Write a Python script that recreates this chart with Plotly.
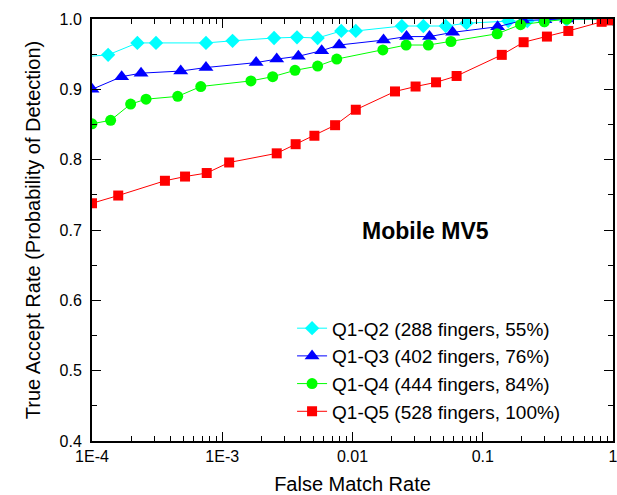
import plotly.graph_objects as go

# ---- data ----
names = ["Q1-Q2 (288 fingers, 55%)", "Q1-Q3 (402 fingers, 76%)",
         "Q1-Q4 (444 fingers, 84%)", "Q1-Q5 (528 fingers, 100%)"]

q2_fmr = [7e-5, 1.33e-4, 2.23e-4, 3.1e-4, 7.5e-4, 1.2e-3, 2.5e-3, 3.75e-3, 5.4e-3, 8.2e-3,
          1.06e-2, 0.0239, 0.035, 0.052, 0.075, 0.157, 0.22, 0.30, 0.44, 1.0]
q2_tar = [0.945, 0.949, 0.966, 0.966, 0.966, 0.969, 0.973, 0.974, 0.973, 0.983,
          0.983, 0.990, 0.990, 0.990, 0.994, 0.997, 0.997, 0.998, 0.999, 1.0]

q3_fmr = [1e-4, 1.69e-4, 2.38e-4, 4.8e-4, 7.5e-4, 1.82e-3, 2.62e-3, 3.84e-3, 5.8e-3, 7.9e-3,
          0.0173, 0.026, 0.039, 0.0587, 0.130, 0.204, 0.30, 0.44, 1.0]
q3_tar = [0.900, 0.918, 0.923, 0.926, 0.931, 0.938, 0.943, 0.947, 0.955, 0.963,
          0.970, 0.975, 0.975, 0.981, 0.989, 0.998, 0.999, 1.0, 1.0]

q4_fmr = [1e-4, 1.39e-4, 1.98e-4, 2.6e-4, 4.55e-4, 6.84e-4, 1.66e-3, 2.44e-3, 3.62e-3, 5.4e-3,
          7.57e-3, 0.0171, 0.0258, 0.0382, 0.057, 0.129, 0.195, 0.297, 0.442, 1.0]
q4_tar = [0.851, 0.856, 0.879, 0.886, 0.890, 0.904, 0.912, 0.918, 0.927, 0.933,
          0.943, 0.956, 0.963, 0.963, 0.968, 0.979, 0.992, 0.996, 1.0, 1.0]

q5_fmr = [1e-4, 1.59e-4, 3.63e-4, 5.18e-4, 7.6e-4, 1.13e-3, 2.62e-3, 3.66e-3, 5.1e-3, 7.35e-3,
          1.06e-2, 0.0212, 0.0305, 0.0438, 0.063, 0.14, 0.206, 0.311, 0.454, 0.818, 0.94]
q5_tar = [0.738, 0.749, 0.770, 0.776, 0.781, 0.796, 0.809, 0.822, 0.834, 0.849,
          0.871, 0.897, 0.904, 0.910, 0.919, 0.949, 0.967, 0.975, 0.983, 0.996, 0.998]

x_tick_vals = [1e-4, 1e-3, 1e-2, 1e-1, 1]
x_tick_text = ["1E-4", "1E-3", "0.01", "0.1", "1"]

series = [
    (q2_fmr, q2_tar, "#00FFFF", "diamond", 11),
    (q3_fmr, q3_tar, "#0000FF", "triangle-up", 13),
    (q4_fmr, q4_tar, "#00FF00", "circle", 11),
    (q5_fmr, q5_tar, "#FF0000", "square", 10),
]

FONT = "Liberation Sans, Arial, sans-serif"

fig = go.Figure()
for (xs, ys, col, sym, sz), nm in zip(series, names):
    fig.add_trace(go.Scatter(
        x=xs, y=ys, name=nm, mode="lines+markers",
        line=dict(color=col, width=1),
        marker=dict(color=col, symbol=sym, size=sz, line=dict(width=0)),
    ))

minor_x = [k * 10.0 ** d for d in range(-4, 0) for k in range(2, 10)]

fig.update_layout(
    width=617, height=495,
    margin=dict(l=92, r=4, t=19, b=54),
    paper_bgcolor="white", plot_bgcolor="white",
    font=dict(family=FONT, color="black", size=16),
    showlegend=True,
    legend=dict(
        x=0.384, y=0.312, xanchor="left", yanchor="top",
        bgcolor="rgba(0,0,0,0)", borderwidth=0,
        font=dict(family=FONT, size=19, color="black"),
        tracegroupgap=0, itemwidth=30,
    ),
    annotations=[dict(
        text="<b>Mobile MV5</b>", x=0.64, y=0.497, xref="paper", yref="paper",
        showarrow=False, font=dict(family=FONT, size=23, color="black"),
        xanchor="center", yanchor="middle",
    )],
)

fig.update_xaxes(
    type="log", range=[-4, 0], automargin=False, ticklabeloverflow="allow",
    tickmode="array", tickvals=x_tick_vals, ticktext=x_tick_text,
    ticks="inside", ticklen=9, tickwidth=1.3, tickcolor="black",
    showline=True, linecolor="black", linewidth=2, mirror="ticks",
    showgrid=False, zeroline=False,
    tickfont=dict(family=FONT, size=16),
    minor=dict(tickmode="array", tickvals=minor_x, ticks="inside",
               ticklen=5, tickwidth=1.3, tickcolor="black", showgrid=False),
    title=dict(text="False Match Rate", font=dict(family=FONT, size=20), standoff=18),
)
fig.update_yaxes(
    range=[0.4, 1.0], dtick=0.1, tick0=0.4, tickformat=".1f", automargin=False,
    ticks="inside", ticklen=9, tickwidth=1.3, tickcolor="black",
    showline=True, linecolor="black", linewidth=2, mirror="ticks",
    showgrid=False, zeroline=False,
    tickfont=dict(family=FONT, size=16), ticklabelstandoff=5,
    minor=dict(dtick=0.05, ticks="inside", ticklen=5, tickwidth=1.3,
               tickcolor="black", showgrid=False),
    title=dict(text="True Accept Rate (Probability of Detection)",
               font=dict(family=FONT, size=20), standoff=14),
)

fig.write_html("out.html", config={"displayModeBar": False},
               post_script="document.body.style.margin='0';document.body.style.padding='0';")
